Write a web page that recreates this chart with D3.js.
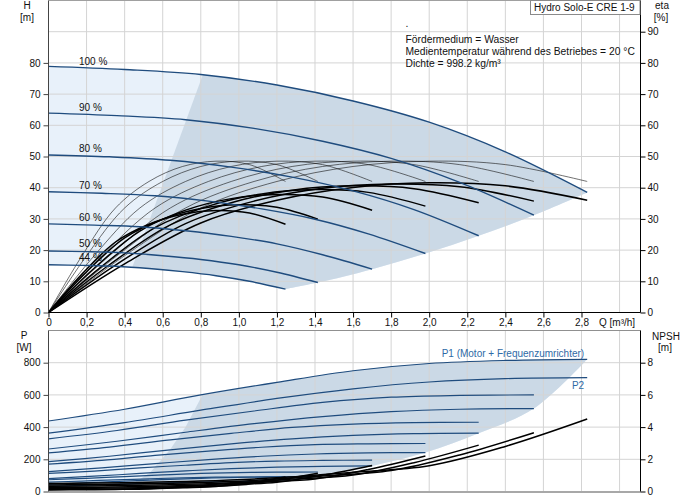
<!DOCTYPE html>
<html><head><meta charset="utf-8">
<script src="https://cdn.jsdelivr.net/npm/d3@7"></script>
<style>body{margin:0;background:#fff}svg{display:block;font-family:"Liberation Sans",Arial,sans-serif;font-size:10px}</style>
</head><body><svg id="c" width="691" height="500"></svg>
<script>
// ---------- data ----------
const speedLabels = ["100 %","90 %","80 %","70 %","60 %","50 %","44 %"];
const flowQ = [
 [0,0.4,0.8,1.2,1.6,2.0,2.4,2.83],
 [0,0.36,0.72,1.08,1.44,1.8,2.16,2.55],
 [0,0.32,0.64,0.96,1.28,1.6,1.92,2.26],
 [0,0.28,0.56,0.84,1.12,1.4,1.68,1.98],
 [0,0.24,0.48,0.72,0.96,1.2,1.44,1.70],
 [0,0.2,0.4,0.6,0.8,1.0,1.2,1.415],
 [0,0.176,0.352,0.528,0.704,0.88,1.056,1.245]];
const headH = [
 [78.9,77.9,76.3,72.9,67.8,61.0,51.5,38.5],
 [63.9,63.1,61.8,59.0,54.9,49.4,41.7,31.2],
 [50.5,49.9,48.8,46.6,43.4,39.0,33.0,24.6],
 [38.7,38.2,37.4,35.7,33.2,29.9,25.2,18.9],
 [28.4,28.0,27.5,26.2,24.4,22.0,18.5,13.9],
 [19.7,19.5,19.1,18.2,17.0,15.3,12.9,9.6],
 [15.3,15.1,14.8,14.1,13.1,11.8,10.0,7.5]];
const etaPump = [
 [0,18.2,33.5,42.0,46.8,48.5,47.4,42.0],
 [0,18.2,33.5,42.0,46.8,48.5,47.4,42.0],
 [0,18.2,33.5,42.0,46.8,48.5,47.4,42.0],
 [0,18.2,33.5,42.0,46.8,48.5,47.4,42.0],
 [0,18.2,33.5,42.0,46.8,48.5,47.4,42.0],
 [0,18.2,33.5,42.0,46.8,48.5,47.4,42.0],
 [0,18.2,33.5,42.0,46.8,48.5,47.4,42.0]];
const etaTotal = [
 [0,15.6,28.7,36.0,40.1,41.6,40.6,36.0],
 [0,15.5,28.5,35.7,39.8,41.2,40.3,35.7],
 [0,15.3,28.1,35.2,39.2,40.6,39.7,35.2],
 [0,14.8,27.2,34.1,38.0,39.4,38.5,34.1],
 [0,14.2,26.1,32.8,36.5,37.8,37.0,32.8],
 [0,13.0,23.9,29.9,33.3,34.5,33.7,29.9],
 [0,12.3,22.6,28.3,31.5,32.7,31.9,28.3]];
const powerP1 = [
 [438,511,600,678,750,795,814,821],
 [327,379,443,500,553,586,597,600],
 [240,276,321,361,398,419,428,430],
 [170,193,224,251,275,291,296,298],
 [112,127,147,163,179,189,193,195],
 [73,82,93,103,112,117,120,121],
 [58,65,72,79,85,89,90,91]];
const powerP2 = [
 [362,428,505,578,638,680,701,707],
 [264,312,368,421,465,496,511,515],
 [185,219,259,296,327,348,359,362],
 [124,147,173,198,219,233,240,242],
 [80,95,112,128,142,151,156,159],
 [46,55,65,74,82,88,91,93],
 [32,38,45,51,56,60,62,63]];
const npshM = [
 [0.50,0.55,0.65,0.85,1.20,1.60,2.80,4.50],
 [0.41,0.45,0.53,0.69,0.97,1.30,2.27,3.65],
 [0.32,0.35,0.42,0.54,0.77,1.02,1.79,2.88],
 [0.25,0.27,0.32,0.42,0.59,0.78,1.37,2.21],
 [0.18,0.20,0.23,0.31,0.43,0.58,1.01,1.62],
 [0.13,0.14,0.16,0.21,0.30,0.40,0.70,1.13],
 [0.10,0.11,0.13,0.16,0.23,0.31,0.54,0.90]];
const minFlowHQ = [0.81,0.44], minFlowH = [76.1,14.5];
const minFlowPQ = [0.81,0.72,0.638,0.533,0.44], minFlowP = [602,400,259,116,47];
const qTicks = [0,0.2,0.4,0.6,0.8,1.0,1.2,1.4,1.6,1.8,2.0,2.2,2.4,2.6,2.8];
const qTickLabels = ["0","0,2","0,4","0,6","0,8","1,0","1,2","1,4","1,6","1,8","2,0","2,2","2,4","2,6","2,8"];
const hTicks = [0,10,20,30,40,50,60,70,80];
const etaTicks = [0,10,20,30,40,50,60,70,80,90];
const pTicks = [0,200,400,600,800];
const npshTicks = [0,2,4,6,8];
const infoLines = [".","Fördermedium = Wasser","Medientemperatur während des Betriebes = 20 °C","Dichte = 998.2 kg/m³"];
const titleText = "Hydro Solo-E CRE 1-9";

// ---------- scales ----------
const svg = d3.select("#c");
const x = d3.scaleLinear([0,3.11],[48.5,640.5]);
const yH = d3.scaleLinear([0,100],[312.5,0.5]);
const yEta = d3.scaleLinear([0,100],[312.5,0.5]);
const yP = d3.scaleLinear([0,1000],[491.5,330.5]);
const yN = d3.scaleLinear([0,10],[491.5,330.5]);
const curve = d3.curveCatmullRom.alpha(0.5);
const pts = (qs,vs)=>qs.map((q,i)=>[q,vs[i]]);
const gen = y => d3.line().x(d=>x(d[0])).y(d=>y(d[1])).curve(curve);
const lineH = gen(yH), lineEta = gen(yEta), lineP = gen(yP), lineN = gen(yN);
const cont = s => s.replace(/^M/,"L");
const last = a => a[a.length-1];

const LIGHT = "#e8f1fa", DARK = "#cbd9e6", NAVY = "#1f4c7e", GRID = "#d4d4d4";

// ---------- clip paths ----------
const defs = svg.append("defs");
{
  const A=[x(minFlowHQ[0]),yH(minFlowH[0])], B=[x(minFlowHQ[1]),yH(minFlowH[1])];
  const k=(B[0]-A[0])/(B[1]-A[1]);
  const poly=[[A[0]+(-20-A[1])*k,-20],[A[0]+(340-A[1])*k,340],[720,340],[720,-20]];
  defs.append("clipPath").attr("id","clipTop").append("polygon").attr("points",poly.map(p=>p.join(",")).join(" "));
  const mp = minFlowPQ.map((q,i)=>[x(q),yP(minFlowP[i])]);
  const poly2=[[mp[0][0],318],...mp,[last(mp)[0],520],[720,520],[720,318]];
  defs.append("clipPath").attr("id","clipBot").append("polygon").attr("points",poly2.map(p=>p.join(",")).join(" "));
}

// ---------- shaded areas ----------
const endH = flowQ.map((q,i)=>[last(q),last(headH[i])]);
const regionTop = lineH(pts(flowQ[0],headH[0])) + cont(lineH(endH)) + cont(lineH(pts(flowQ[6],headH[6]).reverse())) + "Z";
svg.append("path").attr("d",regionTop).attr("fill",LIGHT);
svg.append("path").attr("d",regionTop).attr("fill",DARK).attr("clip-path","url(#clipTop)");

const endP = flowQ.map((q,i)=>[last(q), i===0 ? last(powerP1[0]) : last(powerP2[i])]);
const regionBot = lineP(pts(flowQ[0],powerP1[0])) + cont(lineP(endP)) + cont(lineP(pts(flowQ[6],powerP2[6]).reverse())) + "Z";
svg.append("path").attr("d",regionBot).attr("fill",LIGHT);
svg.append("path").attr("d",regionBot).attr("fill",DARK).attr("clip-path","url(#clipBot)");

// ---------- grid ----------
const gq = d3.range(1,16).map(i=>i*0.2);
const grid = svg.append("g").attr("stroke",GRID).attr("stroke-width",1);
gq.forEach(q=>{
  grid.append("line").attr("x1",x(q)).attr("x2",x(q)).attr("y1",yH(100)).attr("y2",yH(0));
  grid.append("line").attr("x1",x(q)).attr("x2",x(q)).attr("y1",yP(1000)).attr("y2",yP(0));
});
d3.range(1,10).map(i=>i*10).forEach(h=>grid.append("line").attr("x1",x(0)).attr("x2",x(3.11)).attr("y1",yH(h)).attr("y2",yH(h)));
[200,400,600,800].forEach(p=>grid.append("line").attr("x1",x(0)).attr("x2",x(3.11)).attr("y1",yP(p)).attr("y2",yP(p)));

// borders
svg.append("line").attr("x1",x(0)).attr("x2",x(3.11)).attr("y1",yH(100)).attr("y2",yH(100)).attr("stroke","#a0a0a0");
svg.append("line").attr("x1",x(0)).attr("x2",x(3.11)).attr("y1",yP(1000)).attr("y2",yP(1000)).attr("stroke","#909090");
svg.append("line").attr("x1",x(0)).attr("x2",x(3.11)).attr("y1",yP(0)+0.5).attr("y2",yP(0)+0.5).attr("stroke","#a8a8a8").attr("stroke-width",2);

// ---------- curves ----------
const gc = svg.append("g").attr("fill","none");
flowQ.forEach((q,i)=>{
  gc.append("path").attr("d",lineP(pts(q,powerP1[i]))).attr("stroke",NAVY).attr("stroke-width",1.2);
  gc.append("path").attr("d",lineP(pts(q,powerP2[i]))).attr("stroke",NAVY).attr("stroke-width",1.2);
});
flowQ.forEach((q,i)=>{
  gc.append("path").attr("d",lineN(pts(q,npshM[i]))).attr("stroke","#000").attr("stroke-width",1.5);
});
flowQ.forEach((q,i)=>{
  gc.append("path").attr("d",lineEta(pts(q,etaPump[i]))).attr("stroke","#111").attr("stroke-width",0.6);
  gc.append("path").attr("d",lineEta(pts(q,etaTotal[i]))).attr("stroke","#000").attr("stroke-width",1.5);
});
flowQ.forEach((q,i)=>{
  gc.append("path").attr("d",lineH(pts(q,headH[i]))).attr("stroke",NAVY).attr("stroke-width",1.4);
});

// speed labels
speedLabels.forEach((s,i)=>{
  svg.append("text").attr("x",79).attr("y",yH(headH[i][1])-4.5).attr("fill","#111").text(s);
});

// ---------- axes ----------
function styleAxis(g,color){
  g.select(".domain").attr("stroke",color);
  g.selectAll(".tick line").attr("stroke",color);
  g.selectAll(".tick text").attr("fill","#111").attr("font-size","10px").attr("font-family","'Liberation Sans',Arial,sans-serif");
}
const ax1 = svg.append("g").attr("transform","translate(48.5,0)")
  .call(d3.axisLeft(yH).tickValues(hTicks).tickSize(5).tickSizeOuter(0).tickPadding(3));
styleAxis(ax1,"#444");
ax1.select(".domain").attr("d",`M0,${yH(100)}V${yH(0)}`);
const ax2 = svg.append("g").attr("transform","translate(640.5,0)")
  .call(d3.axisRight(yEta).tickValues(etaTicks).tickSize(5).tickSizeOuter(0).tickPadding(2));
styleAxis(ax2,"#000");
ax2.select(".domain").attr("d",`M0,${yEta(100)}V${yEta(0)}`);
const ax3 = svg.append("g").attr("transform","translate(0,312.5)")
  .call(d3.axisBottom(x).tickValues(qTicks).tickFormat((d,i)=>qTickLabels[i]).tickSize(5).tickSizeOuter(0).tickPadding(1));
styleAxis(ax3,"#000");
ax3.select(".domain").attr("d",`M${x(0)},0H${x(3.11)}`);
const ax4 = svg.append("g").attr("transform","translate(48.5,0)")
  .call(d3.axisLeft(yP).tickValues(pTicks).tickSize(5).tickSizeOuter(0).tickPadding(3));
styleAxis(ax4,"#444");
ax4.select(".domain").attr("d",`M0,${yP(1000)}V${yP(0)}`);
const ax5 = svg.append("g").attr("transform","translate(640.5,0)")
  .call(d3.axisRight(yN).tickValues(npshTicks).tickSize(5).tickSizeOuter(0).tickPadding(2));
styleAxis(ax5,"#000");
ax5.select(".domain").attr("d",`M0,${yN(10)}V${yN(0)}`);

// axis titles
const t = (xx,yy,s,anchor)=>svg.append("text").attr("x",xx).attr("y",yy).attr("text-anchor",anchor||"middle").attr("fill","#111").text(s);
t(27,8.5,"H"); t(27,20.5,"[m]");
t(662,8.5,"eta"); t(661,20.5,"[%]");
t(24,339,"P"); t(24,350.5,"[W]");
t(666,339.5,"NPSH"); t(665,351,"[m]");
t(599,326,"Q [m³/h]","start");

// legend/title box
svg.append("rect").attr("x",530.5).attr("y",0.5).attr("width",109.5).attr("height",14).attr("fill","#fff").attr("stroke","#8a8a8a");
t(534,11,titleText,"start");

// info text
infoLines.forEach((s,i)=>t(405.5, i===0?27:42.5+(i-1)*12.2, s, "start").attr("font-size","10.3px"));

// power labels
svg.append("text").attr("x",x(last(flowQ[0]))-3).attr("y",yP(last(powerP1[0]))-2).attr("text-anchor","end").attr("fill","#2e6aa6").text("P1 (Motor + Frequenzumrichter)");
svg.append("text").attr("x",x(last(flowQ[0]))-3).attr("y",yP(last(powerP2[0]))+11.5).attr("text-anchor","end").attr("fill","#2e6aa6").text("P2");
</script></body></html>
